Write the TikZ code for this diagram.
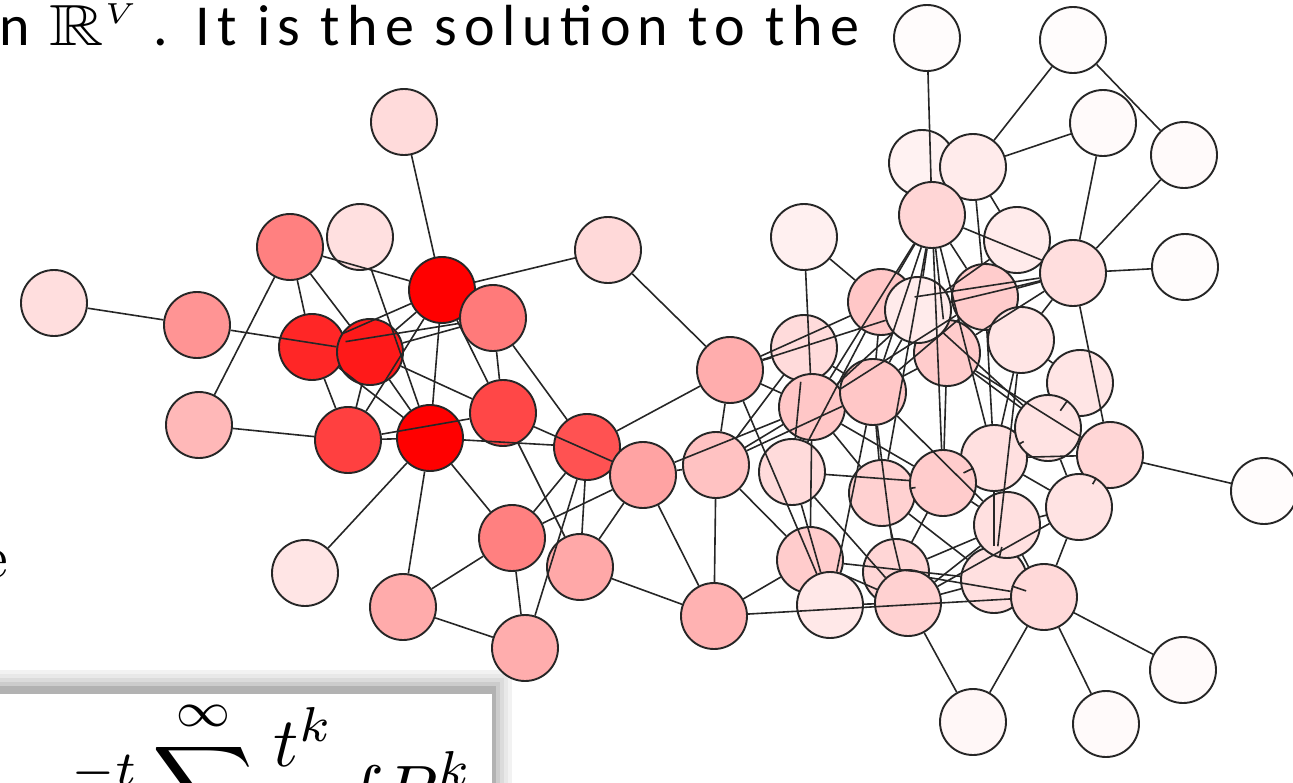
\documentclass[tikz,border=0pt]{standalone}
\usepackage{amsmath,amssymb}
\usepackage{fontspec}
\newfontfamily\slidefont[LetterSpace=12.5]{Carlito}
\usepackage{tikz}
\usetikzlibrary{calc}
\tikzset{
  vtx/.style={circle,draw=black!85,line width=1.9pt,minimum size=66pt,inner sep=0pt},
  lnk/.style={black!85,line width=1.6pt}
}

\begin{document}
\begin{tikzpicture}[x=1pt,y=-1pt]
  \useasboundingbox (0,0) rectangle (1293,782);
  \clip (0,0) rectangle (1293,782);

  \node[anchor=base west,inner sep=0pt,scale=5.8,transform shape,font=\slidefont] (intro)
    at (-2,45) {n \scalebox{1.3}[1]{$\mathbb{R}$}$^{\scriptscriptstyle V}$\hspace{2.5pt}. It is the solution to the};
  \node[anchor=base east,inner sep=0pt,scale=6,transform shape] (frag) at (9,577) {e};

  % formula box with its soft shadow
  \foreach \k/\g in {0/5,1/9,2/14,3/20,4/30}{
    \fill[black!\g] (-5,670+4*\k) rectangle (512-4*\k,790);
  }
  \fill[white] (-5,694) rectangle (492,790);
  \node[anchor=base west,inner sep=0pt,scale=7,transform shape] (heat) at (38,814)
    {$\displaystyle e^{-t}\sum_{k=0}^{\infty}\frac{t^k}{k!}fP^k$};

  % hot side
  \foreach \n/\x/\y/\c in {h1/54/303/13, h2/197/325/42, h3/290/247/50, h4/360/237/12,
      h5/404/122/14, h6/442/290/100, h7/493/318/52, h8/312/347/85, h9/370/352/90,
      h10/199/425/28, h11/348/440/75, h12/430/438/100, h13/503/413/72, h14/587/447/68,
      h15/608/250/15, h16/643/475/36, h17/512/538/50, h18/580/567/34, h19/305/573/10,
      h20/403/607/33, h21/525/648/32}{
    \node[vtx,fill=red!\c!white] (\n) at (\x,\y) {};
  }
  % cool side
  \foreach \n/\x/\y/\c in {c1/927/38/1, c2/1073/40/1, c3/1103/123/2, c4/1184/155/2,
      c5/922/163/5, c6/973/167/8, c7/932/215/16, c8/1017/240/8, c9/1073/273/13,
      c10/1185/267/1, c11/804/237/6, c12/881/302/22, c15/947/353/20, c13/918/310/8,
      c14/985/297/20, c16/1021/340/10, c17/730/370/32, c18/804/348/14, c19/812/407/22,
      c20/873/392/22, c21/1080/383/10, c28/994/458/12, c22/1048/428/11, c23/1110/455/16,
      c24/716/465/24, c25/792/472/14, c26/882/493/18, c27/943/483/20, c29/1079/507/11,
      c36/994/580/12, c30/1007/525/12, c31/1264/491/1, c32/810/560/20, c33/830/605/9,
      c34/896/572/16, c35/908/603/18, c37/1044/597/15, c38/714/616/30, c39/973/722/3,
      c40/1106/724/2, c41/1183/670/2}{
    \node[vtx,fill=red!\c!white] (\n) at (\x,\y) {};
  }

  \foreach \a/\b in {h1/h2, h2/h9, h3/h10, h3/h8, h3/h9, h3/h6, h4/h12, h5/h6, h6/h15,
      h6/h8, h6/h9, h6/h11, h6/h12, h6/h13, h7/h9, h7/h8, h7/h13, h7/h14, h8/h11, h8/h12,
      h9/h11, h9/h12, h9/h13, h10/h11, h11/h12, h11/h13, h12/h14, h13/h16, h12/h19,
      h12/h20, h12/h17, h13/h18, h14/h17, h14/h21, h14/h18, h16/h17, h16/h18, h17/h20,
      h17/h21, h20/h21, h16/c38, h18/c38, h16/c24, h14/c17, h15/c17, h16/c19}{
    \draw[lnk] (\a) -- (\b);
  }
  \foreach \a/\b in {c1/c7, c2/c6, c2/c4, c3/c6, c3/c9, c4/c9, c9/c10, c7/c9, c6/c14,
      c6/c8, c7/c12, c7/c13, c7/c14, c7/c15, c7/c19, c7/c20, c7/c26, c7/c27, c7/c28,
      c8/c13, c9/c13, c9/c14, c9/c12, c9/c15, c9/c23, c9/c16, c11/c12, c11/c19,
      c12/c17, c13/c17, c12/c20, c12/c25, c13/c20, c13/c19, c13/c22, c14/c15, c14/c20,
      c14/c19, c14/c28, c15/c22, c15/c27, c15/c20, c15/c23, c16/c28, c16/c36, c16/c21,
      c17/c18, c17/c19, c17/c24, c17/c33, c18/c20, c18/c24, c18/c25, c19/c26, c19/c32,
      c19/c27, c20/c26, c20/c34, c20/c33, c20/c30, c21/c22, c22/c29, c22/c28, c23/c29,
      c23/c31, c23/c28, c24/c19, c24/c32, c24/c38, c24/c20, c25/c27, c25/c33, c25/c35,
      c26/c27, c26/c36, c27/c28, c27/c30, c27/c34, c28/c29, c28/c36, c28/c30, c29/c37,
      c29/c30, c29/c35, c30/c37, c30/c35, c30/c36, c30/c34, c32/c36, c32/c35, c32/c38,
      c33/c35, c35/c36, c35/c39, c35/c26, c36/c37, c34/c37, c37/c39, c37/c40, c37/c41,
      c38/c37}{
    \draw[lnk] (\a) -- (\b);
  }
\end{tikzpicture}
\end{document}
